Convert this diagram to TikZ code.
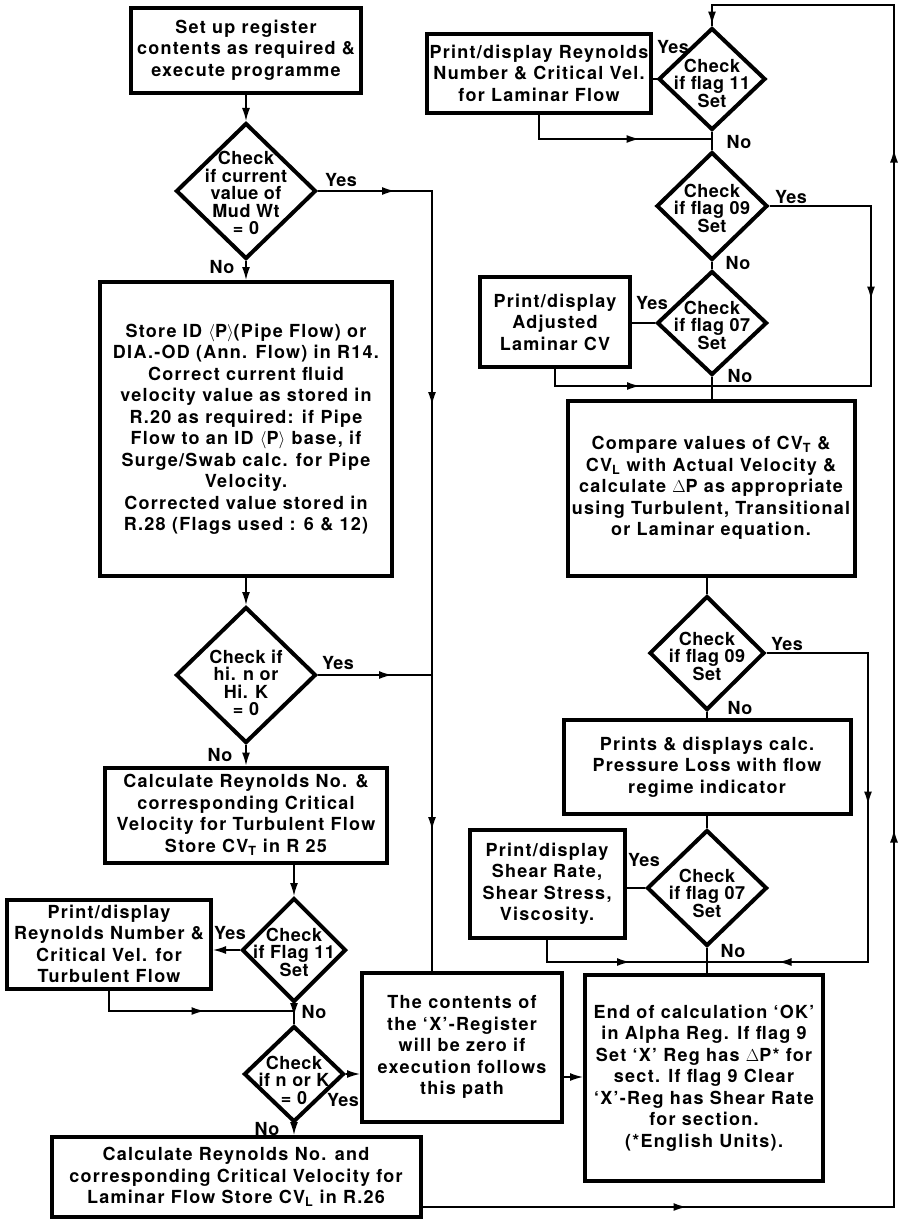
\documentclass[tikz,border=0pt]{standalone}
\usepackage{fontspec}
\setmainfont{TeX Gyre Heros}
\usetikzlibrary{shapes.geometric,arrows.meta,decorations.markings}

\begin{document}
\begin{tikzpicture}[x=1pt,y=-1pt,
  every node/.style={font=\bfseries\fontsize{18}{21.5}\selectfont\addfontfeatures{LetterSpace=3}},
  box/.style={draw, line width=4pt, align=center, inner sep=0pt,
    font=\bfseries\fontsize{18}{21.5}\selectfont\addfontfeatures{LetterSpace=7}},
  dia/.style={draw, diamond, line width=4pt, inner sep=0pt},
  dtext/.style={align=center, inner sep=0pt,
    font=\bfseries\fontsize{18}{17.5}\selectfont\addfontfeatures{LetterSpace=3}},
  lbl/.style={inner sep=0pt},
  flow/.style={line width=1.5pt},
  ar/.style={flow, -{Latex[length=13pt,width=8pt]}},
  ma/.style={postaction={decorate, decoration={markings,
      mark=at position #1 with {\arrow{Latex[length=13pt,width=8pt]}}}}},
]
\useasboundingbox (0,0) rectangle (910,1224);

% ---------- left column ----------
\node[box, minimum width=230pt, minimum height=85pt] (a) at (246,50)
  {Set up register\\contents as required \&\\execute programme};

\node[dia, minimum width=140pt, minimum height=136pt] (d1) at (246,191) {};
\node[dtext] (d1t) at (246,193) {Check\\if current\\value of\\Mud Wt\\= 0};

\node[box, minimum width=292pt, minimum height=294pt] (b) at (246,429)
  {Store ID $\langle$P$\rangle$(Pipe Flow) or\\DIA.-OD (Ann. Flow) in R14.\\
   Correct current fluid\\velocity value as stored in\\R.20 as required: if Pipe\\
   Flow to an ID $\langle$P$\rangle$ base, if\\Surge/Swab calc. for Pipe\\Velocity.\\
   Corrected value stored in\\R.28 (Flags used : 6 \& 12)};

\node[dia, minimum width=140pt, minimum height=136pt] (d2) at (246,675) {};
\node[dtext] (d2t) at (246,683) {Check if\\hi. n or\\Hi. K\\= 0};

\node[box, minimum width=282pt, minimum height=95pt] (c) at (246,815)
  {Calculate Reynolds No. \&\\corresponding Critical\\Velocity for Turbulent Flow\\
   Store CV\textsubscript{T} in R 25};

\node[dia, minimum width=104pt, minimum height=104pt] (d3) at (294,950) {};
\node[dtext] (d3t) at (294,952) {Check\\if Flag 11\\Set};

\node[box, minimum width=204pt, minimum height=89pt] (e) at (109,944)
  {Print/display\\Reynolds Number \&\\Critical Vel. for\\Turbulent Flow};

\node[dia, minimum width=100pt, minimum height=96pt] (d4) at (294,1074) {};
\node[dtext] (d4t) at (294,1080) {Check\\if n or K\\= 0};

\node[box, minimum width=369pt, minimum height=80pt] (f) at (236,1177)
  {Calculate Reynolds No. and\\corresponding Critical Velocity for\\
   Laminar Flow Store CV\textsubscript{L} in R.26};

\node[box, minimum width=200pt, minimum height=149pt] (g) at (462,1047)
  {The contents of\\the ‘X’-Register\\will be zero if\\execution follows\\this path};

% ---------- right column ----------
\node[dia, minimum width=107pt, minimum height=102pt] (d5) at (712,79) {};
\node[dtext] (d5t) at (712,83) {Check\\if flag 11\\Set};

\node[box, minimum width=224pt, minimum height=79pt] (i) at (539,73)
  {Print/display Reynolds\\Number \& Critical Vel.\\for Laminar Flow};

\node[dia, minimum width=111pt, minimum height=108pt] (d6) at (712,206) {};
\node[dtext] (d6t) at (712,208) {Check\\if flag 09\\Set};

\node[dia, minimum width=110pt, minimum height=104pt] (d7) at (712,323) {};
\node[dtext] (d7t) at (712,325) {Check\\if flag 07\\Set};

\node[box, minimum width=150pt, minimum height=90pt] (j) at (555,322)
  {Print/display\\Adjusted\\Laminar CV};

\node[box, minimum width=287pt, minimum height=175pt] (k) at (711,488)
  {Compare values of CV\textsubscript{T} \&\\CV\textsubscript{L} with Actual Velocity \&\\
   calculate $\Delta$P as appropriate\\using Turbulent, Transitional\\or Laminar equation.};

\node[dia, minimum width=115pt, minimum height=114pt] (d8) at (707,653) {};
\node[dtext] (d8t) at (707,656) {Check\\if flag 09\\Set};

\node[box, minimum width=287pt, minimum height=94pt] (l) at (707,767)
  {Prints \& displays calc.\\Pressure Loss with flow\\regime indicator};

\node[dia, minimum width=120pt, minimum height=116pt] (d9) at (707,888) {};
\node[dtext] (d9t) at (707,893) {Check\\if flag 07\\Set};

\node[box, minimum width=155pt, minimum height=108pt] (m) at (547,884)
  {Print/display\\Shear Rate,\\Shear Stress,\\Viscosity.};

\node[box, minimum width=238pt, minimum height=206pt] (h) at (704,1078)
  {End of calculation ‘OK’\\in Alpha Reg. If flag 9\\Set ‘X’ Reg has $\Delta$P* for\\
   sect. If flag 9 Clear\\‘X’-Reg has Shear Rate\\for section.\\(*English Units).};

% ---------- junctions and bends ----------
\coordinate (j5) at (432,675);
\coordinate (j1) at (294,1011);
\coordinate (j6) at (894,1207);
\coordinate (tr) at (894,5);
\coordinate (tl) at (712,5);
\coordinate (j2) at (712,139);
\coordinate (j3) at (712,386);
\coordinate (r6) at (871,206);
\coordinate (r6b) at (871,386);
\coordinate (j4) at (707,962);
\coordinate (r8) at (868,653);
\coordinate (r8b) at (868,962);

% ---------- connectors, left ----------
\draw[ar] (a) -- (d1);
\draw[flow, ma=77pt, ma=328pt, ma=753pt] (d1.east) -- (d1.east -| j5) -- (j5 |- g.north);
\draw[ar] (d1) -- (b);
\draw[ar] (b) -- (d2);
\draw[flow, ma=74pt] (d2.east) -- (j5);
\draw[ar] (d2) -- (c);
\draw[ar] (d3.north |- c.south) -- (d3.north);
\draw[ar] (d3.west) -- (e.east |- d3.west);
\draw[flow, ma=116pt] (e.south) -- (e.south |- j1) -- (j1);
\draw[flow, ma=12pt] (d3.south) -- (d4.north);
\draw[ar] (d4.east) -- (g.west |- d4.east);
\draw[ar] (d4.south) -- (d4.south |- f.north);
\draw[ar] (g.east |- 0,1077) -- (h.west |- 0,1077);

% return line to the top of the right column
\draw[flow, ma=264pt, ma=849pt, ma=1529pt, ma=1875pt]
  (f.east |- j6) -- (j6) -- (tr) -- (tl) -- (d5.north);

% ---------- connectors, right ----------
\draw[flow] (d5.west) -- (i.east |- d5.west);
\draw[flow, ma=125pt] (i.south) -- (i.south |- j2) -- (j2);
\draw[flow] (d5.south) -- (d6.north);
\draw[flow, ma=195pt] (d6.east) -- (r6) -- (r6b) -- (j3);
\draw[flow] (d6.south) -- (d7.north);
\draw[flow] (d7.west) -- (j.east |- d7.west);
\draw[flow, ma=102pt] (j.south) -- (j.south |- j3) -- (j3);
\draw[flow] (d7.south) -- (j3 |- k.north);
\draw[flow] (d8.north |- k.south) -- (d8.north);
\draw[flow, ma=253pt, ma=500pt] (d8.east) -- (r8) -- (r8b) -- (j4);
\draw[flow] (d8.south) -- (l.north);
\draw[flow] (l.south) -- (d9.north);
\draw[flow] (d9.west) -- (m.east |- d9.west);
\draw[flow, ma=105pt] (m.south) -- (m.south |- j4) -- (j4);
\draw[flow] (d9.south) -- (j4 |- h.north);

% ---------- branch labels ----------
\node[lbl] (y1) at (341,180) {Yes};
\node[lbl] (n1) at (222,267) {No};
\node[lbl] (y2) at (338,663) {Yes};
\node[lbl] (n2) at (220,755) {No};
\node[lbl] (y3) at (230,933) {Yes};
\node[lbl] (n3) at (314,1012) {No};
\node[lbl] (y4) at (343,1100) {Yes};
\node[lbl] (n4) at (267,1129) {No};
\node[lbl] (y5) at (673,47) {Yes};
\node[lbl] (n5) at (739,142) {No};
\node[lbl] (y6) at (791,197) {Yes};
\node[lbl] (n6) at (738,263) {No};
\node[lbl] (y7) at (652,303) {Yes};
\node[lbl] (n7) at (740,376) {No};
\node[lbl] (y8) at (787,644) {Yes};
\node[lbl] (n8) at (740,708) {No};
\node[lbl] (y9) at (644,860) {Yes};
\node[lbl] (n9) at (733,951) {No};
\end{tikzpicture}
\end{document}
